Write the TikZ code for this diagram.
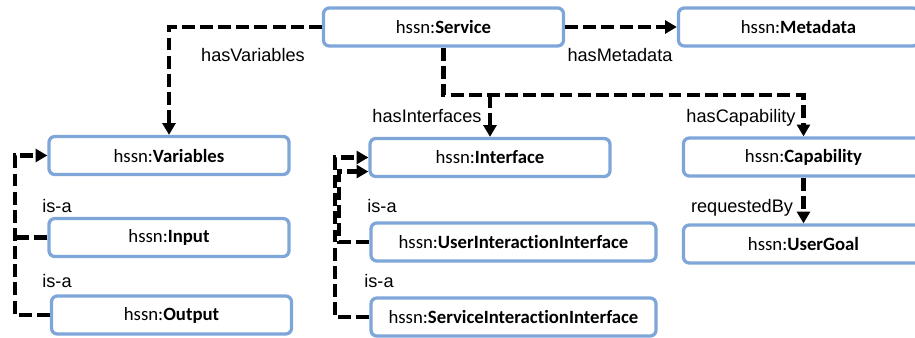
\documentclass[tikz,border=0pt]{standalone}
\usepackage{fontspec}
\setmainfont{Liberation Sans}
\newfontfamily\boxfont[Ligatures={NoCommon,NoContextual}]{Carlito}
\usetikzlibrary{arrows.meta}
\definecolor{boxblue}{HTML}{7EA6D8}

\begin{document}
\begin{tikzpicture}[x=0.03cm,y=-0.03cm,
		box/.style={draw=boxblue,line width=2.8pt,rounded corners=5pt,fill=white,
			minimum width=7.2cm,minimum height=1.14cm,inner sep=0pt,
			font=\boxfont\fontsize{16}{18}\selectfont},
		widebox/.style={box,minimum width=8.55cm},
		branch/.style={line width=3.8pt,dash pattern=on 11pt off 4.5pt},
		rel/.style={branch,-{Triangle[length=10pt,width=11pt]}},
		lbl/.style={anchor=base,inner sep=0pt,font=\fontsize{15.5}{18}\selectfont}]
		
		\useasboundingbox (0,0) rectangle (915,338);
		\clip (0,0) rectangle (915,338);
		
		% Top row
		\node[box] (srv) at (443.5,27) {hssn:\textbf{Service}};
		\node[box] (meta) at (798.5,27) {hssn:\textbf{Metadata}};
		
		% Variables column
		\node[box] (var) at (169,155.5) {hssn:\textbf{Variables}};
		\node[box] (inp) at (169,237.5) {hssn:\textbf{Input}};
		\node[box] (out) at (171.5,315) {hssn:\textbf{Output}};
		
		% Interface column
		\node[box] (ifc) at (490,157.5) {hssn:\textbf{Interface}};
		\node[widebox] (uii) at (513.5,242) {hssn:\textbf{UserInteractionInterface}};
		\node[widebox] (sii) at (513.5,317) {hssn:\textbf{ServiceInteractionInterface}};
		
		% Capability column
		\node[box] (cap) at (803.5,157) {hssn:\textbf{Capability}};
		\node[box] (goal) at (803.5,244) {hssn:\textbf{UserGoal}};
		
		% Service relations
		\coordinate (bus) at (443.5,95);
		\draw[rel] (srv.west) -| (var.north);
		\draw[rel] (srv.east) -- (meta.west);
		\draw[rel] (srv.south) |- (bus -| cap.north) -- (cap.north);
		\draw[rel] (bus -| ifc.north) -- (ifc.north);
		\draw[rel] (cap.south) -- (goal.north);
		
		% is-a relations
		\coordinate (lft) at (15,0);
		\coordinate (mid) at (335,0);
		\coordinate (midin) at (339,0);
		\coordinate (ifclow) at ([yshift=-12pt]ifc.west);
		\draw[rel] (out.west) -| (lft |- var.west) -- (var.west);
		\draw[branch] (inp.west) -- (inp.west -| lft);
		\draw[rel] (sii.west) -| (mid |- ifc.west) -- (ifc.west);
		\draw[rel] (uii.west) -| (midin |- ifclow) -- (ifclow);
		
		% Labels
		\node[lbl] (lvar) at (253,62) {hasVariables};
		\node[lbl] (lmeta) at (620,62) {hasMetadata};
		\node[lbl] (lifc) at (427,123) {hasInterfaces};
		\node[lbl] (lcap) at (741,123) {hasCapability};
		\node[lbl] (lreq) at (742,212) {requestedBy};
		\node[lbl] (lisa1) at (57,212) {is-a};
		\node[lbl] (lisa2) at (57,287) {is-a};
		\node[lbl] (lisa3) at (382,212) {is-a};
		\node[lbl] (lisa4) at (379,287) {is-a};
		
	\end{tikzpicture}
\end{document}
